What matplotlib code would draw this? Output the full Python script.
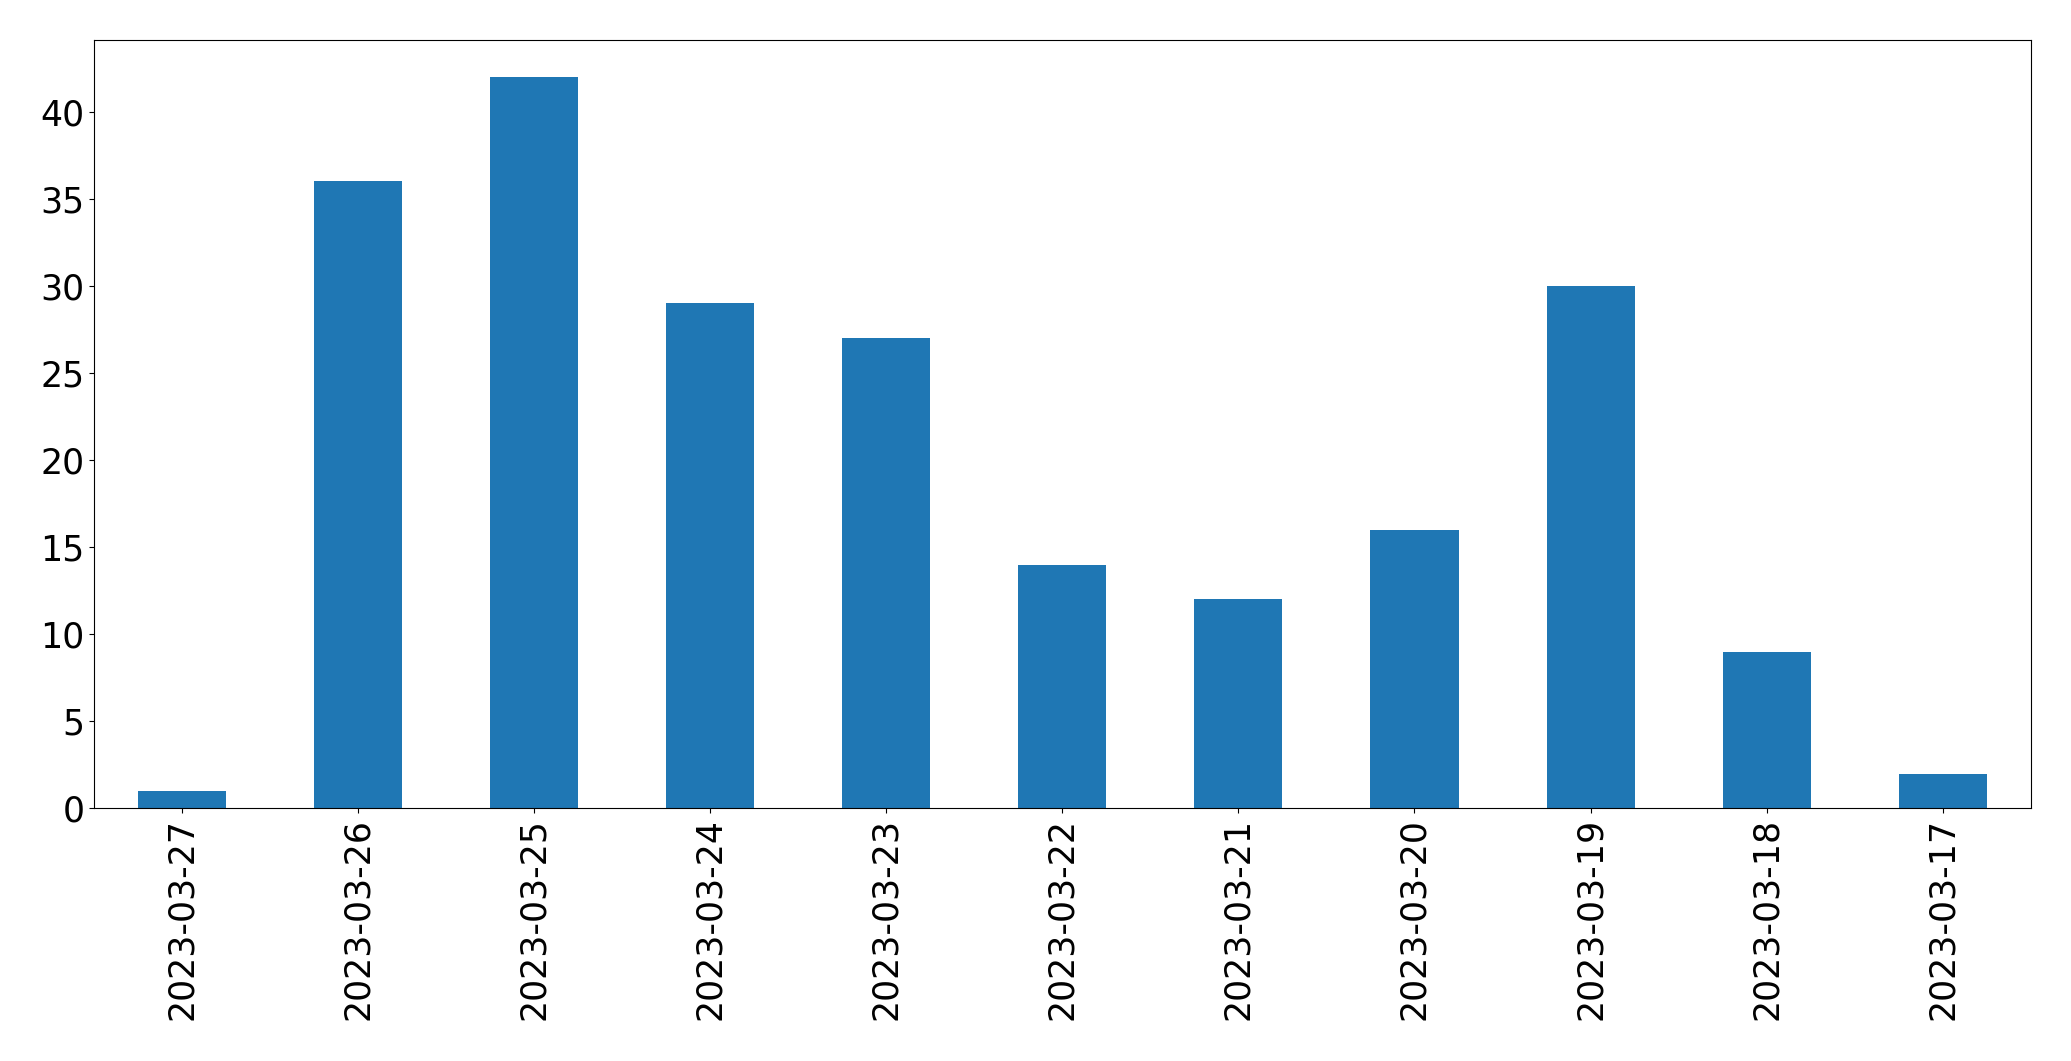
import matplotlib
matplotlib.use("Agg")
import matplotlib.pyplot as plt
import pandas as pd

dates = ['2023-03-27', '2023-03-26', '2023-03-25', '2023-03-24', '2023-03-23',
         '2023-03-22', '2023-03-21', '2023-03-20', '2023-03-19', '2023-03-18',
         '2023-03-17']
counts = [1, 36, 42, 29, 27, 14, 12, 16, 30, 9, 2]

serie = pd.Series(counts, index=dates)

plt.rcParams['font.size'] = 25
fig = plt.figure(figsize=(20.71, 10.61), dpi=100)
ax = fig.add_axes([0.0455, 0.238, 0.935, 0.724])
serie.plot(kind='bar', ax=ax, color='#1f77b4')
ax.tick_params(labelsize=25)

fig.savefig('out.png', dpi=100)
